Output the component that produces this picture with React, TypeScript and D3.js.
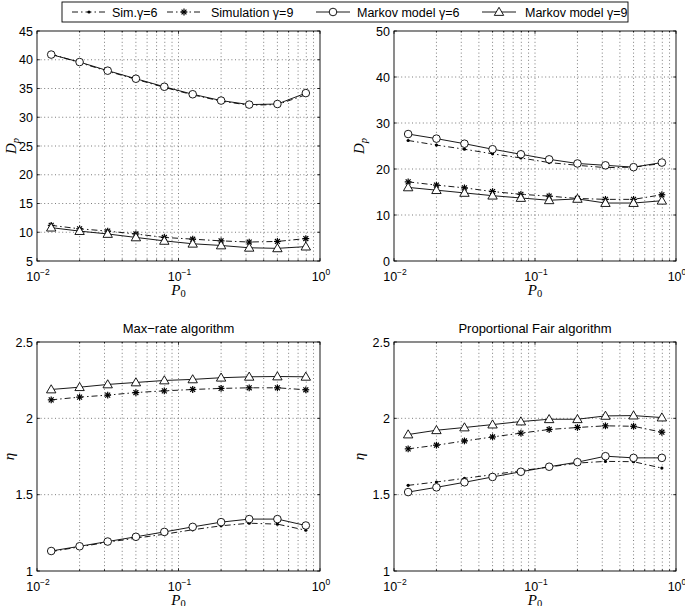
import React from 'react';
import * as d3 from 'd3';

const W = 685;
const H = 606;

// x values (P0)
const P0 = [0.0126, 0.02, 0.0316, 0.05, 0.0794, 0.126, 0.2, 0.316, 0.5, 0.794];

// Top-left: Dp
const dpSim6A = [41.0, 39.5, 38.0, 36.6, 35.2, 33.9, 32.8, 32.1, 32.2, 33.9];
const dpSim9A = [11.2, 10.6, 10.2, 9.7, 9.1, 8.8, 8.5, 8.3, 8.4, 8.9];
const dpMk6A = [40.9, 39.6, 38.1, 36.7, 35.3, 34.0, 32.9, 32.2, 32.3, 34.2];
const dpMk9A = [10.8, 10.2, 9.7, 9.1, 8.5, 8.0, 7.7, 7.3, 7.2, 7.5];

// Top-right: Dp
const dpSim6B = [26.2, 25.2, 24.3, 23.3, 22.4, 21.4, 20.8, 20.3, 20.4, 21.2];
const dpSim9B = [17.2, 16.5, 15.9, 15.1, 14.5, 14.1, 13.6, 13.4, 13.4, 14.4];
const dpMk6B = [27.6, 26.6, 25.5, 24.3, 23.2, 22.1, 21.2, 20.8, 20.4, 21.4];
const dpMk9B = [16.0, 15.4, 14.8, 14.2, 13.7, 13.2, 13.5, 12.6, 12.6, 13.1];

// Bottom-left: eta, Max-rate
const etaSim6A = [1.127, 1.158, 1.189, 1.215, 1.241, 1.27, 1.296, 1.313, 1.307, 1.267];
const etaSim9A = [2.121, 2.139, 2.152, 2.169, 2.18, 2.189, 2.196, 2.2, 2.2, 2.187];
const etaMk6A = [1.131, 1.162, 1.193, 1.224, 1.256, 1.289, 1.32, 1.34, 1.34, 1.298];
const etaMk9A = [2.189, 2.204, 2.222, 2.235, 2.248, 2.255, 2.266, 2.272, 2.274, 2.272];

// Bottom-right: eta, Proportional Fair
const etaSim6B = [1.561, 1.583, 1.607, 1.631, 1.657, 1.681, 1.707, 1.718, 1.716, 1.674];
const etaSim9B = [1.8, 1.824, 1.852, 1.878, 1.903, 1.927, 1.94, 1.951, 1.948, 1.909];
const etaMk6B = [1.517, 1.548, 1.581, 1.616, 1.65, 1.683, 1.713, 1.752, 1.741, 1.741];
const etaMk9B = [1.894, 1.922, 1.94, 1.959, 1.979, 1.994, 1.994, 2.016, 2.018, 2.005];

const xTickExps = [-2, -1, 0];
const dpTicksA = [5, 10, 15, 20, 25, 30, 35, 40, 45];
const dpTicksB = [0, 10, 20, 30, 40, 50];
const etaTicks = [1, 1.5, 2, 2.5];

const legendLabels = ['Sim.\u03b3=6', 'Simulation \u03b3=9', 'Markov model \u03b3=6', 'Markov model \u03b3=9'];
const titles = ['', '', 'Max\u2212rate algorithm', 'Proportional Fair algorithm'];

type Kind = 'dot' | 'star' | 'circle' | 'tri';
const kinds: Kind[] = ['dot', 'star', 'circle', 'tri'];
const dashes = ['6,3,1.5,3', '6,3,1.5,3', '', ''];

const SANS = '"Liberation Sans", Arial, Helvetica, sans-serif';
const SERIF = '"Liberation Serif", "Times New Roman", serif';

function Marker({ kind, x, y }: { kind: Kind; x: number; y: number }) {
  if (kind === 'dot') return <circle cx={x} cy={y} r={1.6} fill="#000" />;
  if (kind === 'circle') return <circle cx={x} cy={y} r={3.8} fill="#fff" stroke="#000" strokeWidth={0.9} />;
  if (kind === 'tri') {
    const s = 4.7;
    const pts = `${x},${y - s} ${x - s},${y + s * 0.72} ${x + s},${y + s * 0.72}`;
    return <polygon points={pts} fill="#fff" stroke="#000" strokeWidth={0.9} />;
  }
  const a = 3.4;
  const d = a * 0.72;
  return (
    <g stroke="#000" strokeWidth={1.2}>
      <line x1={x - a} y1={y} x2={x + a} y2={y} />
      <line x1={x} y1={y - a} x2={x} y2={y + a} />
      <line x1={x - d} y1={y - d} x2={x + d} y2={y + d} />
      <line x1={x - d} y1={y + d} x2={x + d} y2={y - d} />
    </g>
  );
}

interface PanelProps {
  left: number; right: number; top: number; bottom: number;
  yDomain: [number, number]; yTicks: number[];
  ylabel: 'D' | 'eta'; ylabelX: number;
  title: string;
  series: number[][];
}

function Panel(p: PanelProps) {
  const x = d3.scaleLog().domain([0.01, 1]).range([p.left, p.right]);
  const y = d3.scaleLinear().domain(p.yDomain).range([p.bottom, p.top]);
  const minor: number[] = [];
  for (const e of [-2, -1]) for (let k = 2; k <= 9; k++) minor.push(k * Math.pow(10, e));
  const gridX = [...minor, 0.1];
  const tl = 2.8;
  const tlm = 1.6;
  const line = d3.line<number>().x((_, i) => x(P0[i])).y((v) => y(v));
  const cy = (p.top + p.bottom) / 2;
  return (
    <g>
      {/* grid */}
      <g stroke="#444" strokeWidth={0.7} strokeDasharray="1,2.6">
        {gridX.map((v, i) => (
          <line key={'gx' + i} x1={x(v)} x2={x(v)} y1={p.top} y2={p.bottom} />
        ))}
        {p.yTicks.slice(1, -1).map((v, i) => (
          <line key={'gy' + i} x1={p.left} x2={p.right} y1={y(v)} y2={y(v)} />
        ))}
      </g>
      {/* box */}
      <rect x={p.left} y={p.top} width={p.right - p.left} height={p.bottom - p.top} fill="none" stroke="#000" strokeWidth={0.9} />
      {/* ticks */}
      <g stroke="#000" strokeWidth={0.8}>
        {xTickExps.map((e) => {
          const xv = x(Math.pow(10, e));
          return (
            <g key={'xt' + e}>
              <line x1={xv} x2={xv} y1={p.bottom} y2={p.bottom - tl} />
              <line x1={xv} x2={xv} y1={p.top} y2={p.top + tl} />
            </g>
          );
        })}
        {minor.map((v, i) => (
          <g key={'xm' + i}>
            <line x1={x(v)} x2={x(v)} y1={p.bottom} y2={p.bottom - tlm} />
            <line x1={x(v)} x2={x(v)} y1={p.top} y2={p.top + tlm} />
          </g>
        ))}
        {p.yTicks.map((v, i) => (
          <g key={'yt' + i}>
            <line x1={p.left} x2={p.left + tl} y1={y(v)} y2={y(v)} />
            <line x1={p.right} x2={p.right - tl} y1={y(v)} y2={y(v)} />
          </g>
        ))}
      </g>
      {/* tick labels */}
      <g fontFamily={SANS} fontSize={12.5} fill="#000">
        {p.yTicks.map((v, i) => (
          <text key={'yl' + i} x={p.left - 4} y={y(v) + 4.5} textAnchor="end">{String(v)}</text>
        ))}
        {xTickExps.map((e) => (
          <text key={'xl' + e} x={x(Math.pow(10, e)) + 1} y={p.bottom + 19.5} textAnchor="middle">
            10<tspan fontSize={8.5} dy={-6}>{e === 0 ? '0' : '\u2212' + Math.abs(e)}</tspan>
          </text>
        ))}
      </g>
      {/* x label */}
      <text x={(p.left + p.right) / 2} y={p.bottom + 33.5} textAnchor="middle" fontFamily={SERIF} fontStyle="italic" fontSize={15}>
        P<tspan fontSize={10.5} dy={2.5} fontStyle="normal">0</tspan>
      </text>
      {/* y label */}
      <g transform={`translate(${p.ylabelX},${cy}) rotate(-90)`}>
        {p.ylabel === 'D' ? (
          <text textAnchor="middle" fontFamily={SERIF} fontStyle="italic" fontSize={15} y={4}>
            D<tspan fontSize={10.5} dy={3}>p</tspan>
          </text>
        ) : (
          <text textAnchor="middle" fontFamily={SERIF} fontStyle="italic" fontSize={15} y={4}>{'\u03b7'}</text>
        )}
      </g>
      {/* title */}
      {p.title && (
        <text x={(p.left + p.right) / 2} y={p.top - 9} textAnchor="middle" fontFamily={SANS} fontSize={13}>{p.title}</text>
      )}
      {/* series */}
      {p.series.map((vals, si) => (
        <g key={'s' + si}>
          <path d={line(vals) || ''} fill="none" stroke="#000" strokeWidth={0.9} strokeDasharray={dashes[si] || undefined} />
          {vals.map((v, i) => (
            <Marker key={i} kind={kinds[si]} x={x(P0[i])} y={y(v)} />
          ))}
        </g>
      ))}
    </g>
  );
}

function Legend() {
  const left = 62;
  const right = 628;
  const top = 2;
  const bottom = 22;
  const cy = (top + bottom) / 2;
  const items = [
    { sx: 72, tx: 112 },
    { sx: 167, tx: 211 },
    { sx: 316, tx: 357 },
    { sx: 482, tx: 525 },
  ];
  return (
    <g>
      <rect x={left} y={top} width={right - left} height={bottom - top} fill="#fff" stroke="#000" strokeWidth={0.9} />
      {items.map((it, i) => (
        <g key={i}>
          <line x1={it.sx} x2={it.sx + 34} y1={cy} y2={cy} stroke="#000" strokeWidth={0.9} strokeDasharray={dashes[i] || undefined} />
          <Marker kind={kinds[i]} x={it.sx + 17} y={cy} />
          <text x={it.tx} y={cy + 4.5} fontFamily={SANS} fontSize={12.5}>{legendLabels[i]}</text>
        </g>
      ))}
    </g>
  );
}

export default function App() {
  const L1 = 37, R1 = 320, L2 = 394, R2 = 676;
  const T1 = 31, B1 = 261, T2 = 342, B2 = 571;
  return (
    <svg width={W} height={H} viewBox={`0 0 ${W} ${H}`} style={{ display: 'block', position: 'absolute', left: 0, top: 0, background: '#fff' }}>
      <rect width={W} height={H} fill="#fff" />
      <Panel left={L1} right={R1} top={T1} bottom={B1} yDomain={[5, 45]} yTicks={dpTicksA} ylabel="D" ylabelX={12} title={titles[0]}
        series={[dpSim6A, dpSim9A, dpMk6A, dpMk9A]} />
      <Panel left={L2} right={R2} top={T1} bottom={B1} yDomain={[0, 50]} yTicks={dpTicksB} ylabel="D" ylabelX={360} title={titles[1]}
        series={[dpSim6B, dpSim9B, dpMk6B, dpMk9B]} />
      <Panel left={L1} right={R1} top={T2} bottom={B2} yDomain={[1, 2.5]} yTicks={etaTicks} ylabel="eta" ylabelX={10} title={titles[2]}
        series={[etaSim6A, etaSim9A, etaMk6A, etaMk9A]} />
      <Panel left={L2} right={R2} top={T2} bottom={B2} yDomain={[1, 2.5]} yTicks={etaTicks} ylabel="eta" ylabelX={360} title={titles[3]}
        series={[etaSim6B, etaSim9B, etaMk6B, etaMk9B]} />
      <Legend />
    </svg>
  );
}
